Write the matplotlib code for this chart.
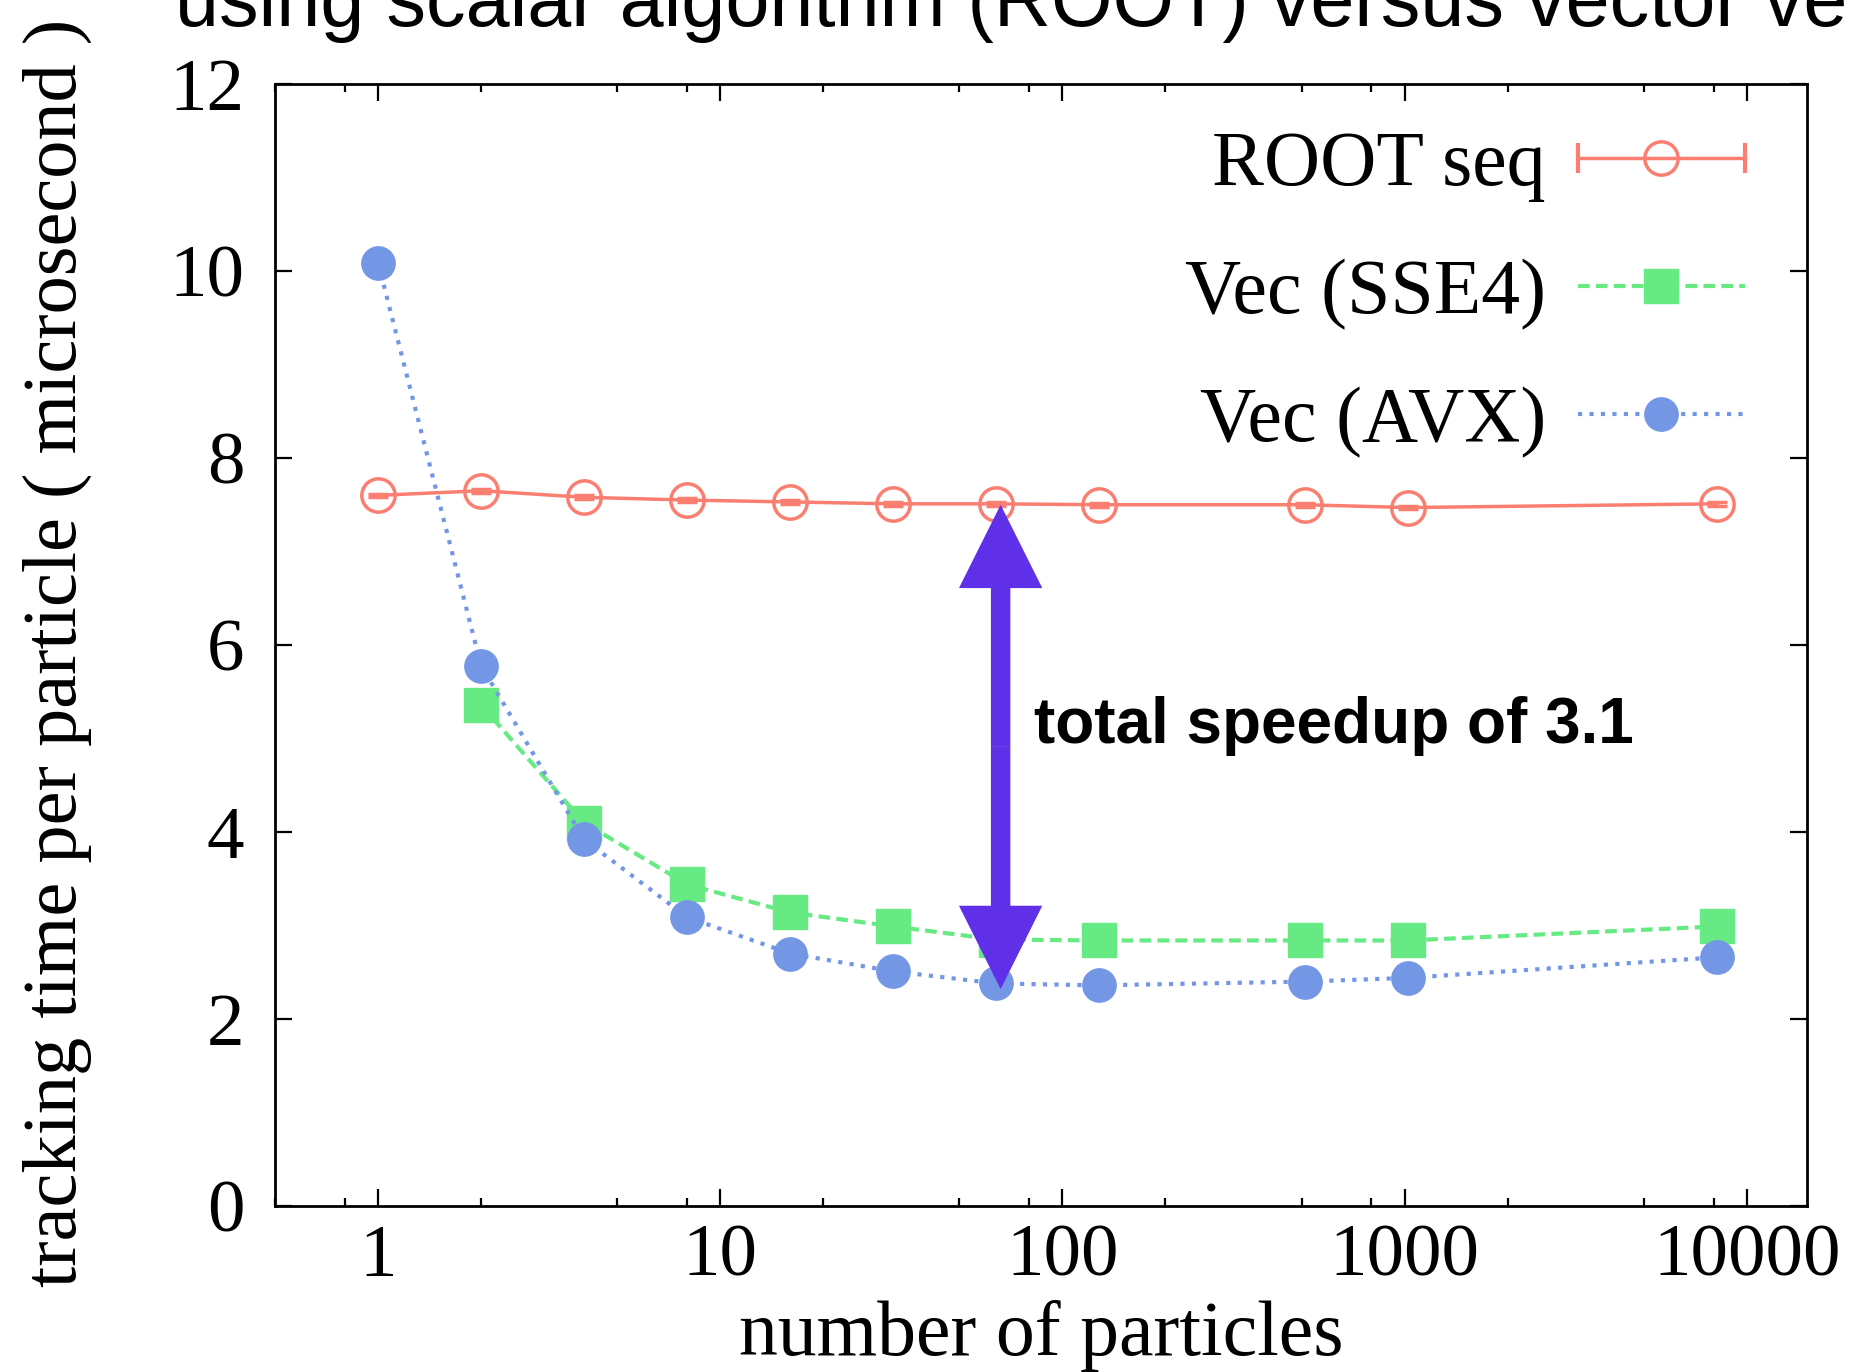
import matplotlib
matplotlib.use("Agg")
import matplotlib.pyplot as plt
from matplotlib.ticker import FixedLocator, FixedFormatter, LogLocator, NullFormatter
from matplotlib.legend_handler import HandlerLine2D
from matplotlib.lines import Line2D

# data
n_particles = [1, 2, 4, 8, 16, 32, 64, 128, 512, 1024, 8192]
root_seq = [7.60, 7.65, 7.58, 7.55, 7.53, 7.51, 7.51, 7.50, 7.50, 7.47, 7.51]
root_err = [0.02] * 11
sse4_n = [2, 4, 8, 16, 32, 64, 128, 512, 1024, 8192]
sse4 = [5.36, 4.10, 3.44, 3.14, 2.99, 2.85, 2.84, 2.84, 2.84, 2.99]
avx = [10.09, 5.78, 3.92, 3.09, 2.70, 2.51, 2.38, 2.36, 2.40, 2.44, 2.66]

x_ticks = [1, 10, 100, 1000, 10000]
x_ticklabels = ["1", "10", "100", "1000", "10000"]
y_ticks = [0, 2, 4, 6, 8, 10, 12]

# arrow: x position, bottom, top
speedup_x = 66
speedup_lo = 2.32
speedup_hi = 7.50

c_root = "#FA7F70"
c_sse = "#67EA83"
c_avx = "#7497E5"
c_arrow = "#5F30E8"

serif = "Liberation Serif"
sans = "Liberation Sans"


class CapHandler(HandlerLine2D):
    # gnuplot style errorbar sample: caps at both ends of the line
    def create_artists(self, legend, orig_handle, xdescent, ydescent,
                       width, height, fontsize, trans):
        arts = super().create_artists(legend, orig_handle, xdescent, ydescent,
                                      width, height, fontsize, trans)
        y = height / 2 - ydescent
        caps = Line2D([-xdescent, width - xdescent], [y, y], ls="none",
                      marker="|", markersize=22, mew=3, color=c_root)
        caps.set_transform(trans)
        return list(arts) + [caps]


fig = plt.figure(figsize=(18.51, 13.72), dpi=100)
ax = fig.add_axes([275 / 1851, 1 - 1206 / 1372, 1532 / 1851, 1122 / 1372])

root = ax.errorbar(n_particles, root_seq, yerr=root_err, color=c_root, lw=2.5,
                   marker="o", ms=24, mfc="none", mew=2.5, capsize=7,
                   capthick=3, elinewidth=2.5, zorder=3)
sse_line, = ax.plot(sse4_n, sse4, color=c_sse, lw=3, ls=(0, (2.8, 1.5)),
                    marker="s", ms=24, mec=c_sse, zorder=4)
avx_line, = ax.plot(n_particles, avx, color=c_avx, lw=3, ls=(0, (1, 1.75)),
                    marker="o", ms=24, mec=c_avx, zorder=5)

mid = (speedup_lo + speedup_hi) / 2
for end in (speedup_hi, speedup_lo):
    ax.annotate("", xy=(speedup_x, end), xytext=(speedup_x, mid),
                arrowprops=dict(arrowstyle="simple,head_length=60,head_width=60,tail_width=14",
                                mutation_scale=1, fc=c_arrow, ec="none", lw=0,
                                shrinkA=0, shrinkB=0), zorder=6)

ax.text(0.4954, 0.4278, "total speedup of 3.1", transform=ax.transAxes,
        fontfamily=sans, fontweight="bold", fontsize=46, ha="left", va="center")

ax.set_xscale("log")
ax.set_xlim(0.5, 15000)
ax.set_ylim(0, 12)
ax.xaxis.set_major_locator(FixedLocator(x_ticks))
ax.xaxis.set_major_formatter(FixedFormatter(x_ticklabels))
ax.xaxis.set_minor_locator(LogLocator(base=10, subs=(2, 5, 8)))
ax.xaxis.set_minor_formatter(NullFormatter())
ax.set_yticks(y_ticks)
ax.set_yticklabels([str(v) for v in y_ticks])

ax.tick_params(which="both", direction="in", top=True, right=True, width=1.6)
ax.tick_params(which="major", length=12)
ax.tick_params(which="minor", length=6)
ax.tick_params(axis="x", pad=13, labelsize=54)
ax.tick_params(axis="y", pad=22, labelsize=54)
for lab in ax.get_xticklabels() + ax.get_yticklabels():
    lab.set_fontfamily(serif)
for s in ax.spines.values():
    s.set_linewidth(2)

ax.set_xlabel("number of particles", fontfamily=serif, fontsize=56, labelpad=6)
fig.text(57 / 1851, 1 - 1287 / 1372, "tracking time per particle ( microsecond )",
         rotation=90, ha="center", va="bottom", fontfamily=serif, fontsize=55)
fig.text(175 / 1851, 1 - 26 / 1372,
         "using scalar algorithm (ROOT) versus vector version",
         fontfamily=sans, fontsize=57, ha="left", va="baseline")

leg = ax.legend([root[0], sse_line, avx_line], ["ROOT seq", "Vec (SSE4)", "Vec (AVX)"],
                loc="upper right", bbox_to_anchor=(0.9595, 0.9587), frameon=False,
                markerfirst=False, prop={"family": serif, "size": 56},
                handlelength=2.15, handletextpad=0.41, labelspacing=0.73,
                borderpad=0, borderaxespad=0,
                handler_map={root[0]: CapHandler()})

fig.savefig("out.png", dpi=100)
